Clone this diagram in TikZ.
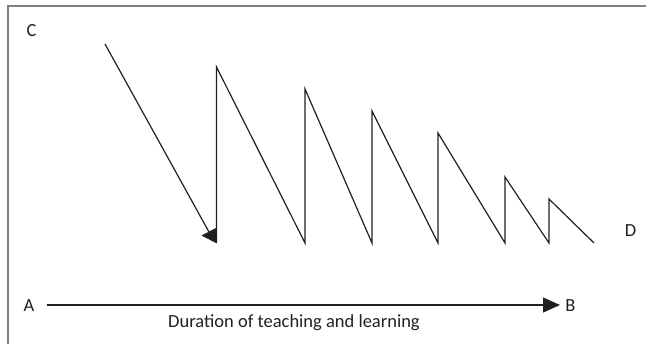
\documentclass[tikz,border=0pt]{standalone}
\usepackage{fontspec}
\setmainfont{Carlito}
\usetikzlibrary{arrows.meta}
\definecolor{ink}{HTML}{231F20}
\definecolor{frame}{HTML}{808080}
\tikzset{
  lbl/.style={inner sep=0pt, font=\fontsize{18.5}{22}\selectfont, text=ink},
  curve/.style={draw=ink, line width=1.2pt, line join=miter},
  tip/.style={-{Triangle[length=17pt,width=15pt]}},
  head/.style={fill=ink, draw=ink, line width=0.4pt, line join=miter},
}
\begin{document}
\begin{tikzpicture}[x=1pt,y=-1pt]
\useasboundingbox (0,0) rectangle (646,344);
\draw[frame, line width=1.5pt] (8,344) -- (8,6) -- (646,6);
% labels
\node[lbl] (C) at (31.5,30.5) {C};
\node[lbl] (D) at (630.5,230.5) {D};
\node[lbl] (A) at (29,305.5) {A};
\node[lbl] (B) at (570.5,306) {B};
\node[lbl, anchor=base] (dur) at (294,327.7) {Duration of teaching and learning};
% axis
\coordinate (a0) at (46.5,305);
\coordinate (b0) at (560,305);
\draw[curve, tip] (a0) -- (b0);
% first arrow
\coordinate (s) at (105,44);
\coordinate (q0) at (216.5,243);
\coordinate (h1) at (202,235.5);
\coordinate (h2) at (216.5,228);
\coordinate (hm) at (209,232);
\draw[curve] (s) -- (hm);
\fill[head] (h1) -- (h2) -- (q0) -- cycle;
% zigzag
\coordinate (t1) at (216.5,67);
\coordinate (q1) at (305,243);
\coordinate (t2) at (305,89);
\coordinate (q2) at (372,243);
\coordinate (t3) at (372,111);
\coordinate (q3) at (438,243);
\coordinate (t4) at (438,133);
\coordinate (q4) at (505,243);
\coordinate (t5) at (505,177);
\coordinate (q5) at (549,243);
\coordinate (t6) at (549,199);
\coordinate (q6) at (594,243);
\draw[curve] (q0) -- (t1) -- (q1) -- (t2) -- (q2) -- (t3) -- (q3) -- (t4) -- (q4) -- (t5) -- (q5) -- (t6) -- (q6);
\end{tikzpicture}
\end{document}
